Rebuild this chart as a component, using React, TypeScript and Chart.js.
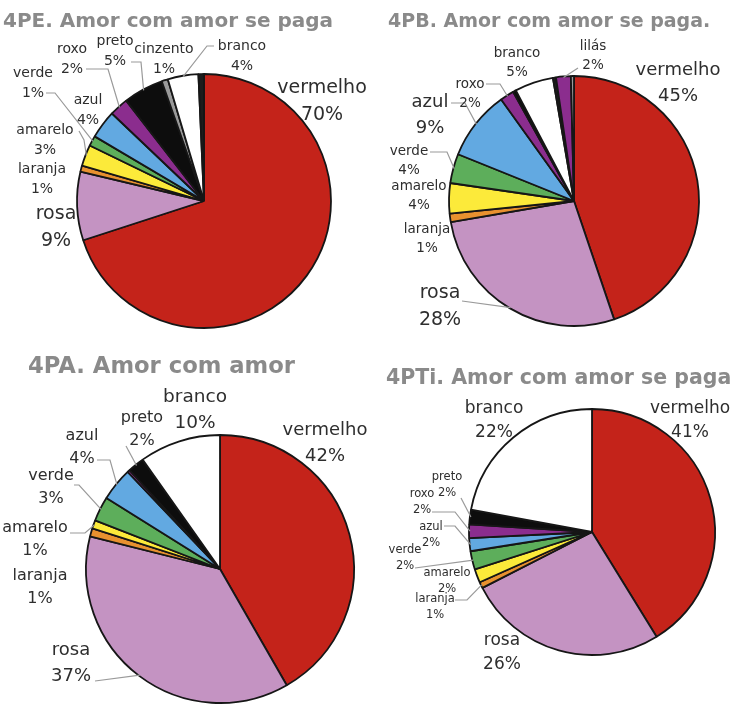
import React, { useEffect, useRef } from "react";
import { Chart, registerables } from "chart.js";

Chart.register(...registerables);

// ---------- colours per category ----------
const COLORS: Record<string, string> = {
  vermelho: "#C4231A",
  rosa: "#C493C2",
  laranja: "#E8912F",
  amarelo: "#FCEA3A",
  verde: "#5DAE5B",
  azul: "#62A9E1",
  roxo: "#8B2D8E",
  preto: "#0d0d0d",
  cinzento: "#9a9a9a",
  branco: "#ffffff",
  "lilás": "#8B2D8E",
  outro: "#1c1c1c",
};

// ---------- 4PE ----------
const peTitle = "4PE. Amor com amor se paga";
const peCategories = ["vermelho", "rosa", "laranja", "amarelo", "verde", "azul", "roxo", "preto", "cinzento", "branco", "outro"];
const peValues = [70, 8.7, 0.8, 2.7, 1.3, 3.6, 2.4, 5.1, 0.8, 3.9, 0.7];

// ---------- 4PB ----------
const pbTitle = "4PB. Amor com amor se paga.";
const pbCategories = ["vermelho", "rosa", "laranja", "amarelo", "verde", "azul", "roxo", "preto", "branco", "outro", "lilás", "cinzento"];
const pbValues = [44.8, 27.5, 1.1, 3.9, 3.8, 9.0, 1.8, 0.4, 5.0, 0.4, 1.9, 0.4];

// ---------- 4PA ----------
const paTitle = "4PA. Amor com amor";
const paCategories = ["vermelho", "rosa", "laranja", "amarelo", "verde", "azul", "roxo", "preto", "branco"];
const paValues = [41.7, 37.2, 1.0, 1.0, 3.0, 4.0, 0.3, 2.0, 9.8];

// ---------- 4PTi ----------
const ptiTitle = "4PTi. Amor com amor se paga";
const ptiCategories = ["vermelho", "rosa", "laranja", "amarelo", "verde", "azul", "roxo", "preto", "branco"];
const ptiValues = [41.2, 26.3, 0.8, 1.8, 2.4, 1.7, 1.8, 1.9, 22.1];

// ---------- layout (positions / sizes only) ----------
type Lbl = { cat: string; x: number; y: number; size: number; lead?: number[][] };
type Spec = {
  left: number; top: number; width: number; height: number;
  cx: number; cy: number; r: number;
  title: string; titleX: number; titleY: number; titleSize: number;
  categories: string[]; values: number[]; labels: Lbl[];
};

const SPECS: Spec[] = [
  {
    left: 0, top: 0, width: 368, height: 340, cx: 204, cy: 201, r: 127,
    title: peTitle, titleX: 3, titleY: 27, titleSize: 20,
    categories: peCategories, values: peValues,
    labels: [
      { cat: "vermelho", x: 322, y: 93, size: 19 },
      { cat: "rosa", x: 56, y: 219, size: 19 },
      { cat: "laranja", x: 42, y: 173, size: 14 },
      { cat: "amarelo", x: 45, y: 134, size: 14, lead: [[79, 131], [84, 140]] },
      { cat: "verde", x: 33, y: 77, size: 14, lead: [[46, 93], [55, 93]] },
      { cat: "azul", x: 88, y: 104, size: 14 },
      { cat: "roxo", x: 72, y: 53, size: 14, lead: [[86, 69], [108, 69]] },
      { cat: "preto", x: 115, y: 45, size: 14, lead: [[131, 62], [141, 62]] },
      { cat: "cinzento", x: 164, y: 53, size: 14 },
      { cat: "branco", x: 242, y: 50, size: 14, lead: [[214, 46], [207, 46]] },
    ],
  },
  {
    left: 368, top: 0, width: 368, height: 340, cx: 206, cy: 201, r: 125,
    title: pbTitle, titleX: 20, titleY: 27, titleSize: 19,
    categories: pbCategories, values: pbValues,
    labels: [
      { cat: "vermelho", x: 310, y: 75, size: 18 },
      { cat: "rosa", x: 72, y: 298, size: 19, lead: [[94, 301]] },
      { cat: "laranja", x: 59, y: 233, size: 13.5 },
      { cat: "amarelo", x: 51, y: 190, size: 13.5 },
      { cat: "verde", x: 41, y: 155, size: 13.5, lead: [[62, 152], [79, 152]] },
      { cat: "azul", x: 62, y: 107, size: 18, lead: [[83, 103], [97, 103]] },
      { cat: "roxo", x: 102, y: 88, size: 13.5, lead: [[118, 84], [132, 84]] },
      { cat: "branco", x: 149, y: 57, size: 13.5 },
      { cat: "lilás", x: 225, y: 50, size: 13.5, lead: [[210, 68]] },
    ],
  },
  {
    left: 0, top: 340, width: 368, height: 368, cx: 220, cy: 229, r: 134,
    title: paTitle, titleX: 28, titleY: 33, titleSize: 22.7,
    categories: paCategories, values: paValues,
    labels: [
      { cat: "vermelho", x: 325, y: 95, size: 18 },
      { cat: "branco", x: 195, y: 62, size: 18.5 },
      { cat: "preto", x: 142, y: 82, size: 16, lead: [[126, 106]] },
      { cat: "azul", x: 82, y: 100, size: 16, lead: [[97, 120], [110, 120]] },
      { cat: "verde", x: 51, y: 140, size: 16, lead: [[74, 145], [79, 145]] },
      { cat: "amarelo", x: 35, y: 192, size: 16, lead: [[70, 193], [85, 193]] },
      { cat: "laranja", x: 40, y: 240, size: 16 },
      { cat: "rosa", x: 71, y: 315, size: 18, lead: [[95, 341]] },
    ],
  },
  {
    left: 368, top: 340, width: 368, height: 368, cx: 224, cy: 192, r: 123,
    title: ptiTitle, titleX: 18, titleY: 44, titleSize: 20.5,
    categories: ptiCategories, values: ptiValues,
    labels: [
      { cat: "vermelho", x: 322, y: 73, size: 17 },
      { cat: "branco", x: 126, y: 73, size: 17 },
      { cat: "rosa", x: 134, y: 305, size: 17 },
      { cat: "preto", x: 79, y: 140, size: 11.5, lead: [[93, 158]] },
      { cat: "roxo", x: 54, y: 157, size: 11.5, lead: [[64, 172], [87, 172]] },
      { cat: "azul", x: 63, y: 190, size: 11.5, lead: [[76, 186], [87, 186]] },
      { cat: "verde", x: 37, y: 213, size: 11.5, lead: [[47, 228]] },
      { cat: "amarelo", x: 79, y: 236, size: 11.5 },
      { cat: "laranja", x: 67, y: 262, size: 11.5, lead: [[87, 260], [99, 260]] },
    ],
  },
];

const LABEL_FONT = '"DejaVu Sans", sans-serif';

function makeLabelPlugin(spec: Spec) {
  return {
    id: "pieLabels",
    afterDraw(chart: any) {
      const ctx = chart.ctx as CanvasRenderingContext2D;
      const meta = chart.getDatasetMeta(0);
      ctx.save();
      // title
      ctx.fillStyle = "#8a8a8a";
      ctx.font = `bold ${spec.titleSize}px ${LABEL_FONT}`;
      ctx.textAlign = "left";
      ctx.textBaseline = "alphabetic";
      ctx.fillText(spec.title, spec.titleX, spec.titleY);

      // leaders
      ctx.strokeStyle = "#9a9a9a";
      ctx.lineWidth = 1.2;
      for (const l of spec.labels) {
        if (!l.lead) continue;
        const idx = spec.categories.indexOf(l.cat);
        const arc: any = meta.data[idx];
        if (!arc) continue;
        const p = arc.getProps(["x", "y", "startAngle", "endAngle", "outerRadius"], true);
        const mid = (p.startAngle + p.endAngle) / 2;
        const ex = p.x + Math.cos(mid) * (p.outerRadius - 1);
        const ey = p.y + Math.sin(mid) * (p.outerRadius - 1);
        ctx.beginPath();
        ctx.moveTo(l.lead[0][0], l.lead[0][1]);
        for (let i = 1; i < l.lead.length; i++) ctx.lineTo(l.lead[i][0], l.lead[i][1]);
        ctx.lineTo(ex, ey);
        ctx.stroke();
      }

      // labels
      ctx.fillStyle = "#2e2e2e";
      ctx.textAlign = "center";
      for (const l of spec.labels) {
        const idx = spec.categories.indexOf(l.cat);
        const v = spec.values[idx];
        ctx.font = `${l.size}px ${LABEL_FONT}`;
        ctx.fillText(l.cat, l.x, l.y);
        ctx.fillText(`${Math.round(v)}%`, l.x, l.y + l.size * 1.42);
      }
      ctx.restore();
    },
  };
}

function PieBox({ spec }: { spec: Spec }) {
  const ref = useRef<HTMLCanvasElement>(null);
  useEffect(() => {
    const canvas = ref.current!;
    const chart = new Chart(canvas, {
      type: "pie",
      data: {
        labels: spec.categories,
        datasets: [
          {
            data: spec.values,
            backgroundColor: spec.categories.map((c) => COLORS[c]),
            borderColor: "#161616",
            borderWidth: 1.8,
          },
        ],
      },
      options: {
        responsive: false,
        animation: false,
        events: [],
        radius: spec.r,
        layout: {
          padding: {
            left: spec.cx - spec.r,
            right: spec.width - (spec.cx + spec.r),
            top: spec.cy - spec.r,
            bottom: spec.height - (spec.cy + spec.r),
          },
        },
        plugins: {
          legend: { display: false },
          tooltip: { enabled: false },
          title: { display: false },
        },
      } as any,
      plugins: [makeLabelPlugin(spec)],
    });
    return () => chart.destroy();
  }, [spec]);
  return (
    <canvas
      ref={ref}
      width={spec.width}
      height={spec.height}
      style={{ position: "absolute", left: spec.left, top: spec.top, width: spec.width, height: spec.height }}
    />
  );
}

export default function App() {
  return (
    <div style={{ position: "absolute", left: 0, top: 0, width: 736, height: 708, background: "#ffffff", overflow: "hidden" }}>
      {SPECS.map((s, i) => (
        <PieBox key={i} spec={s} />
      ))}
    </div>
  );
}
